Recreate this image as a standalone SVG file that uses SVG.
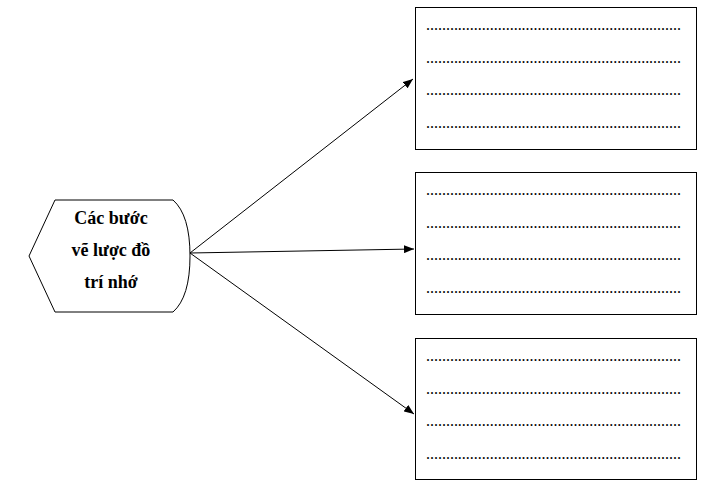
<svg xmlns="http://www.w3.org/2000/svg" width="728" height="485" viewBox="0 0 728 485">
<defs>
<style>
.box{fill:#fff;stroke:#000;stroke-width:1}
.dots{font-family:"Liberation Serif","Times New Roman",serif;font-size:16px;fill:#000}
.lbl{font-family:"Liberation Serif","Times New Roman",serif;font-size:18px;font-weight:bold;fill:#000;text-anchor:middle}
.conn{stroke:#000;stroke-width:1;fill:none;marker-end:url(#ah)}
</style>
<marker id="ah" markerWidth="10" markerHeight="8" refX="10" refY="4" orient="auto" markerUnits="userSpaceOnUse">
<path d="M0,0 L10,4 L0,8 Z" fill="#000"/>
</marker>
</defs>
<rect width="728" height="485" fill="#fff"/>
<g id="connectors">
<line class="conn" x1="190" y1="253" x2="413" y2="79"/>
<line class="conn" x1="190" y1="253" x2="414" y2="249"/>
<line class="conn" x1="190" y1="253" x2="414" y2="414"/>
</g>
<g id="center">
<path class="box" d="M55,200 L173,200 Q190,215 190,256 Q190,297 173,312 L55,312 L29,256 Z"/>
<text class="lbl" x="111" y="224">Các bước</text>
<text class="lbl" x="111" y="256">vẽ lược đồ</text>
<text class="lbl" x="111" y="288">trí nhớ</text>
</g>
<g id="box1">
<rect class="box" x="415.5" y="7.5" width="281" height="142"/>
<text class="dots" x="426" y="30" textLength="255">................................................................</text>
<text class="dots" x="426" y="63" textLength="255">................................................................</text>
<text class="dots" x="426" y="95" textLength="255">................................................................</text>
<text class="dots" x="426" y="128" textLength="255">................................................................</text>
</g>
<g id="box2">
<rect class="box" x="415.5" y="172.5" width="281" height="142"/>
<text class="dots" x="426" y="195" textLength="255">................................................................</text>
<text class="dots" x="426" y="228" textLength="255">................................................................</text>
<text class="dots" x="426" y="260" textLength="255">................................................................</text>
<text class="dots" x="426" y="293" textLength="255">................................................................</text>
</g>
<g id="box3">
<rect class="box" x="415.5" y="338.5" width="281" height="141"/>
<text class="dots" x="426" y="361" textLength="255">................................................................</text>
<text class="dots" x="426" y="394" textLength="255">................................................................</text>
<text class="dots" x="426" y="426" textLength="255">................................................................</text>
<text class="dots" x="426" y="459" textLength="255">................................................................</text>
</g>
</svg>
